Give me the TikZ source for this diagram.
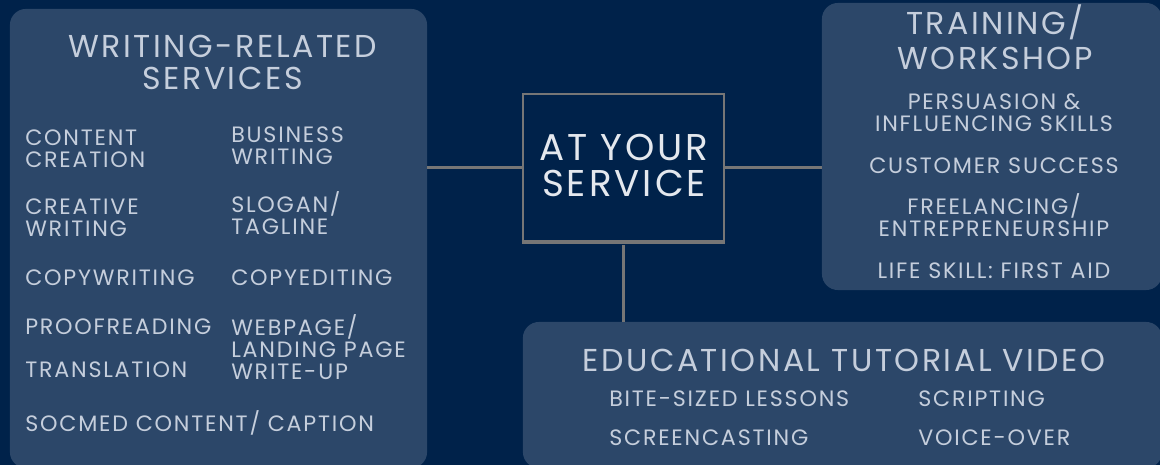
\documentclass[tikz,border=0pt]{standalone}
\usepackage{fontspec}
\setmainfont{Poppins}[LetterSpace=8]
\usepackage{xcolor}
\definecolor{navy}{HTML}{00224A}
\definecolor{panelblue}{HTML}{2C4769}
\definecolor{softtext}{HTML}{C5CEDC}
\definecolor{hubtext}{HTML}{E4E8EE}
\definecolor{linkgrey}{HTML}{767676}

\begin{document}
\begin{tikzpicture}[x=0.025cm, y=-0.025cm,
    panel/.style={fill=panelblue, rounded corners=0.4cm, inner sep=0},
    link/.style={draw=linkgrey, line width=2.1pt},
    item/.style={anchor=base west, inner sep=0, align=left, text=softtext,
        font=\fontsize{15.8}{16}\selectfont},
    head/.style={anchor=base, inner sep=0, align=center, text=softtext,
        font=\fontsize{22.5}{22.8}\selectfont}]
    \fill[navy] (0,0) rectangle (1160,465);
    \useasboundingbox (0,0) rectangle (1160,465);

    % panels
    \node[panel, minimum width=10.425cm, minimum height=11.475cm] (writing) at (218.5,238.5) {};
    \node[panel, minimum width=8.5cm, minimum height=7.175cm] (training) at (992,146.5) {};
    \node[panel, minimum width=15.975cm, minimum height=3.65cm] (tutorial) at (842.5,395) {};
    \node[draw=linkgrey, line width=1.4pt, minimum width=5.025cm, minimum height=3.675cm,
        inner sep=0] (hub) at (623.5,167.5) {};
    \draw[linkgrey, line width=3.5pt] (hub.south west) -- (hub.south east);

    % connectors
    \draw[link] (hub.west) -- (hub.west -| writing.east);
    \draw[link] (hub.east) -- (hub.east -| training.west);
    \draw[link] ([yshift=-2pt]hub.south) -- (hub.south |- tutorial.north);

    % centre (base = last line)
    \node[head, text=hubtext, font=\fontsize{26.5}{26.3}\selectfont] (hubname) at (624,197) {AT YOUR\\SERVICE};

    % writing-related services
    \node[head] (writinghead) at (222.5,90) {WRITING-RELATED\\SERVICES};
    \node[item] (content) at (25,168) {CONTENT\\CREATION};
    \node[item] (creative) at (25,237) {CREATIVE\\WRITING};
    \node[item] (copywriting) at (25,286) {COPYWRITING};
    \node[item] (proofreading) at (25,335) {PROOFREADING};
    \node[item] (translation) at (25,378) {TRANSLATION};
    \node[item] (socmed) at (25,432) {SOCMED CONTENT/ CAPTION};
    \node[item] (business) at (231,165) {BUSINESS\\WRITING};
    \node[item] (slogan) at (231,235) {SLOGAN/\\TAGLINE};
    \node[item] (copyediting) at (231,286) {COPYEDITING};
    \node[item] (webpage) at (231,380) {WEBPAGE/\\LANDING PAGE\\WRITE-UP};

    % training / workshop
    \node[head, font=\fontsize{22.5}{24.9}\selectfont] (traininghead) at (995,70) {TRAINING/\\WORKSHOP};
    \node[head, font=\fontsize{15.8}{16}\selectfont] (persuasion) at (994,132) {PERSUASION \&\\INFLUENCING SKILLS};
    \node[head, font=\fontsize{15.8}{16}\selectfont] (customer) at (994,174) {CUSTOMER SUCCESS};
    \node[head, font=\fontsize{15.8}{16}\selectfont] (freelancing) at (994,237) {FREELANCING/\\ENTREPRENEURSHIP};
    \node[head, font=\fontsize{15.8}{16}\selectfont] (firstaid) at (994,279) {LIFE SKILL: FIRST AID};

    % educational tutorial video
    \node[head] (tutorialhead) at (844,372) {EDUCATIONAL TUTORIAL VIDEO};
    \node[item] (bitesized) at (609,407) {BITE-SIZED LESSONS};
    \node[item] (scripting) at (918,407) {SCRIPTING};
    \node[item] (screencasting) at (609,446) {SCREENCASTING};
    \node[item] (voiceover) at (918,446) {VOICE-OVER};
\end{tikzpicture}
\end{document}
